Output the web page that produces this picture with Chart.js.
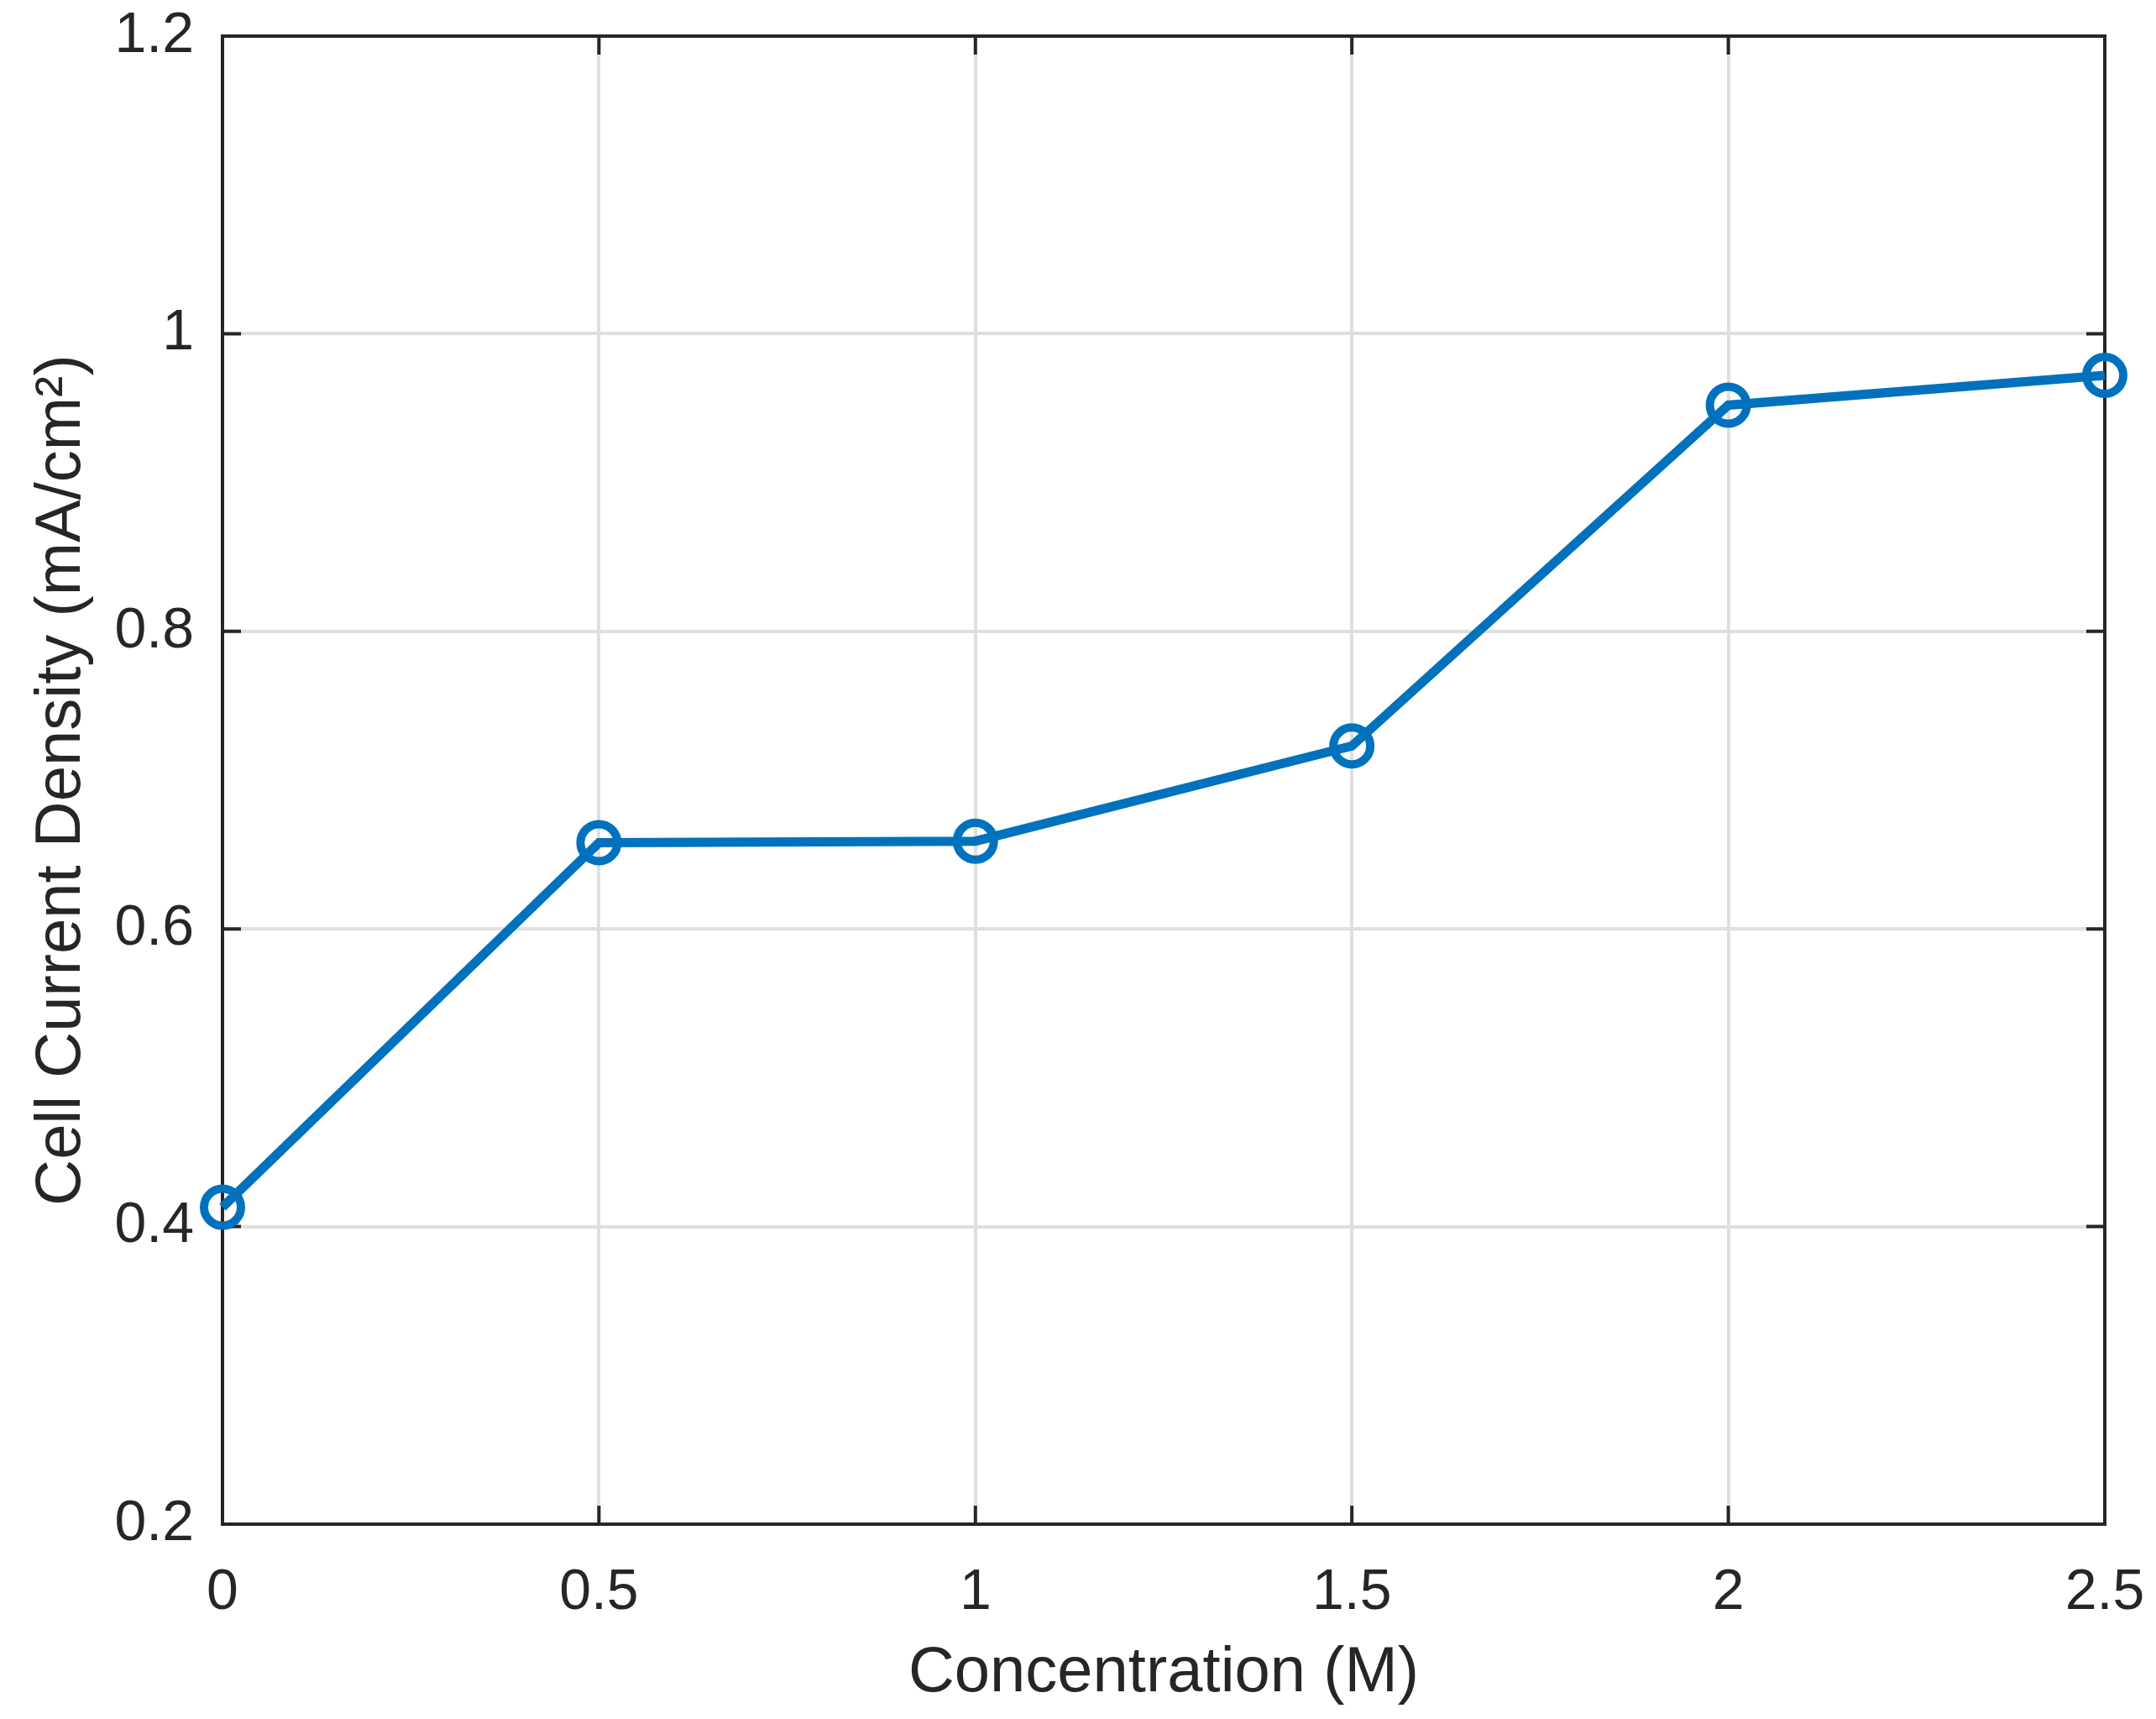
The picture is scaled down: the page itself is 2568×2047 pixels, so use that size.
<!DOCTYPE html>
<html>
<head>
<meta charset="utf-8">
<script src="https://cdn.jsdelivr.net/npm/chart.js@4"></script>
<style>
  html, body { margin: 0; padding: 0; background: #fff; }
  canvas { display: block; }
</style>
</head>
<body>
<canvas id="myChart" width="2568" height="2047"></canvas>
<script>
const concentration = [0, 0.5, 1, 1.5, 2, 2.5];
const currentDensity = [0.413, 0.658, 0.659, 0.723, 0.952, 0.972];
const xTicks = [0, 0.5, 1, 1.5, 2, 2.5];
const yTicks = [0.2, 0.4, 0.6, 0.8, 1, 1.2];

const axisColor = "#262626";
const lineColor = "#0072BD";

// MATLAB-style box with inward ticks on all four sides
const boxTicks = {
  id: "boxTicks",
  beforeDatasetsDraw(chart) {
    const {ctx, chartArea: a, scales: {x, y}} = chart;
    const len = 22;
    ctx.save();
    ctx.strokeStyle = axisColor;
    ctx.lineWidth = 4;
    ctx.lineCap = "square";
    ctx.strokeRect(a.left, a.top, a.right - a.left, a.bottom - a.top);
    ctx.lineCap = "butt";
    ctx.beginPath();
    xTicks.forEach(v => {
      const px = x.getPixelForValue(v);
      ctx.moveTo(px, a.bottom); ctx.lineTo(px, a.bottom - len);
      ctx.moveTo(px, a.top); ctx.lineTo(px, a.top + len);
    });
    yTicks.forEach(v => {
      const py = y.getPixelForValue(v);
      ctx.moveTo(a.left, py); ctx.lineTo(a.left + len, py);
      ctx.moveTo(a.right, py); ctx.lineTo(a.right - len, py);
    });
    ctx.stroke();
    ctx.restore();
  }
};

new Chart("myChart", {
  type: "line",
  data: {
    datasets: [{
      data: concentration.map((c, i) => ({x: c, y: currentDensity[i]})),
      borderColor: lineColor,
      borderWidth: 11,
      pointRadius: 22,
      pointHoverRadius: 22,
      pointBorderWidth: 10,
      pointBorderColor: lineColor,
      pointBackgroundColor: "rgba(0,0,0,0)",
      fill: false,
      tension: 0,
      clip: false
    }]
  },
  options: {
    responsive: false,
    devicePixelRatio: 1,
    animation: false,
    layout: {padding: {left: 0, top: 43, right: 61, bottom: 0}},
    plugins: {legend: {display: false}, tooltip: {enabled: false}},
    scales: {
      x: {
        type: "linear",
        min: 0,
        max: 2.5,
        afterBuildTicks: s => { s.ticks = xTicks.map(v => ({value: v})); },
        afterFit: s => { s.height = 232; s.paddingLeft = 0; s.paddingRight = 0; },
        grid: {color: "#dfdfdf", lineWidth: 4, drawTicks: false},
        border: {display: false},
        ticks: {
          color: axisColor,
          padding: 41,
          maxRotation: 0,
          font: {family: "Liberation Sans", size: 68},
          callback: v => String(v)
        },
        title: {
          display: true,
          text: "Concentration (M)",
          color: axisColor,
          font: {family: "Liberation Sans", size: 76},
          padding: {top: 0, bottom: 8}
        }
      },
      y: {
        min: 0.2,
        max: 1.2,
        afterBuildTicks: s => { s.ticks = yTicks.map(v => ({value: v})); },
        afterFit: s => { s.width = 265; s.paddingTop = 0; s.paddingBottom = 0; },
        grid: {color: "#dfdfdf", lineWidth: 4, drawTicks: false},
        border: {display: false},
        ticks: {
          color: axisColor,
          padding: 34,
          font: {family: "Liberation Sans", size: 68},
          callback: v => String(v)
        },
        title: {
          display: true,
          text: "Cell Current Density (mA/cm²)",
          color: axisColor,
          font: {family: "Liberation Sans", size: 76},
          padding: {top: 28, bottom: 0}
        }
      }
    }
  },
  plugins: [boxTicks]
});
</script>
</body>
</html>
